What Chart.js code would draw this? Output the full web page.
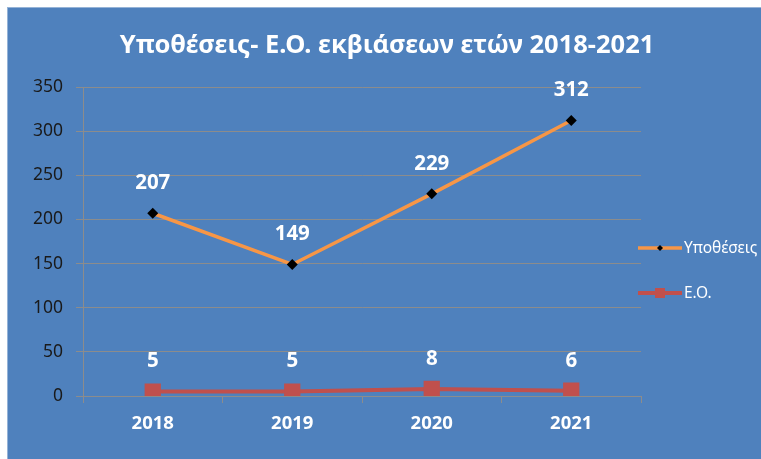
<!DOCTYPE html>
<html>
<head>
<meta charset="utf-8">
<script src="https://cdn.jsdelivr.net/npm/chart.js@4"></script>
<style>
  html, body { margin: 0; padding: 0; background: #fff; }
  #wrap {
    position: absolute; left: 7px; top: 7px;
    width: 754px; height: 452px;
    background: #4f81bd;
    border-top: 1px solid #95b3d7; border-left: 1px solid #95b3d7;
  }
  canvas { display: block; }
</style>
</head>
<body>
<div id="wrap"><canvas id="chart" width="753" height="451"></canvas></div>
<script>
  // chart data
  const chartTitle = 'Υποθέσεις- Ε.Ο. εκβιάσεων ετών 2018-2021';
  const years = ['2018', '2019', '2020', '2021'];
  const cases = [207, 149, 229, 312];
  const eo = [5, 5, 8, 6];
  const seriesNames = ['Υποθέσεις', 'Ε.Ο.'];
  const yTicks = [0, 50, 100, 150, 200, 250, 300, 350];

  const FONT = "'Noto Sans', 'Open Sans', sans-serif";

  // title, value labels and legend drawn on the canvas
  const decorPlugin = {
    id: 'decor',
    afterDatasetsDraw(chart) {
      const ctx = chart.ctx;
      ctx.save();
      ctx.fillStyle = '#ffffff';
      ctx.textAlign = 'center';
      ctx.textBaseline = 'middle';

      // title
      ctx.font = 'bold 25.5px ' + FONT;
      ctx.fillText(chartTitle, 379, 38);

      // value labels
      ctx.font = 'bold 20.5px ' + FONT;
      chart.data.datasets.forEach((ds, i) => {
        const meta = chart.getDatasetMeta(i);
        meta.data.forEach((pt, j) => {
          ctx.fillText(ds.data[j], pt.x, pt.y - 30);
        });
      });

      // legend
      ctx.font = '15.5px ' + FONT;
      ctx.textAlign = 'left';
      const rows = [240, 285];
      chart.data.datasets.forEach((ds, i) => {
        const y = rows[i];
        ctx.strokeStyle = ds.borderColor;
        ctx.lineWidth = ds.borderWidth;
        ctx.beginPath();
        ctx.moveTo(630, y);
        ctx.lineTo(674, y);
        ctx.stroke();
        ctx.fillStyle = ds.pointBackgroundColor;
        if (i === 0) {
          ctx.beginPath();
          ctx.moveTo(652, y - 3); ctx.lineTo(655, y); ctx.lineTo(652, y + 3); ctx.lineTo(649, y);
          ctx.closePath(); ctx.fill();
        } else {
          ctx.fillRect(647, y - 5, 10, 10);
        }
        ctx.fillStyle = '#ffffff';
        ctx.fillText(seriesNames[i], 676, y + 1);
      });
      ctx.restore();
    }
  };

  new Chart(document.getElementById('chart'), {
    type: 'line',
    data: {
      labels: years,
      datasets: [
        {
          label: seriesNames[0],
          data: cases,
          borderColor: '#f79646',
          borderWidth: 3.5,
          pointStyle: 'rectRot',
          pointRadius: 5.5,
          pointBackgroundColor: '#000000',
          pointBorderColor: '#000000',
          pointBorderWidth: 0,
          tension: 0
        },
        {
          label: seriesNames[1],
          data: eo,
          borderColor: '#c0504d',
          borderWidth: 4,
          pointStyle: 'rect',
          pointRadius: 11.5,
          pointBackgroundColor: '#c0504d',
          pointBorderColor: '#c0504d',
          pointBorderWidth: 0,
          tension: 0
        }
      ]
    },
    options: {
      responsive: false,
      animation: false,
      events: [],
      layout: { padding: { left: 0, right: 120, top: 79, bottom: 0 } },
      plugins: {
        legend: { display: false },
        title: { display: false },
        tooltip: { enabled: false }
      },
      scales: {
        x: {
          offset: true,
          grid: {
            offset: true,
            drawOnChartArea: false,
            drawTicks: true,
            tickLength: 7,
            color: '#8c8c8c'
          },
          border: { display: true, color: '#8c8c8c' },
          ticks: {
            color: '#ffffff',
            font: { family: FONT, size: 18.5, weight: 'bold' },
            padding: 10
          },
          afterFit(scale) { scale.height = 63; }
        },
        y: {
          min: 0,
          max: 350,
          afterBuildTicks(scale) { scale.ticks = yTicks.map(v => ({ value: v })); },
          grid: {
            color: '#8c8c8c',
            drawTicks: true,
            tickLength: 7
          },
          border: { display: true, color: '#8c8c8c' },
          ticks: {
            color: '#1a1a1a',
            font: { family: FONT, size: 17.5 },
            padding: 13
          },
          afterFit(scale) { scale.width = 75; }
        }
      }
    },
    plugins: [decorPlugin]
  });
</script>
</body>
</html>
